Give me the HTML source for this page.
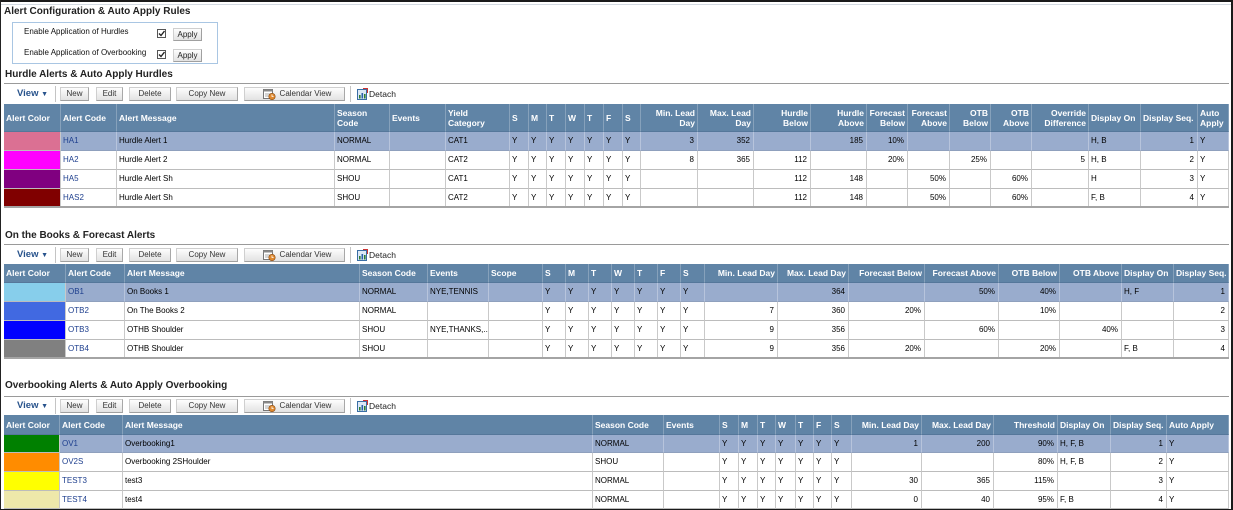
<!DOCTYPE html>
<html><head><meta charset="utf-8"><style>
*{margin:0;padding:0;box-sizing:border-box}
body{width:1233px;height:510px;position:relative;overflow:hidden;background:#fff;font-family:"Liberation Sans",Arial,sans-serif;color:#000}
.a{position:absolute}
.title{position:absolute;font-size:10px;font-weight:bold;color:#222;white-space:nowrap;line-height:12px}
.hr{position:absolute;left:4px;width:1225px;height:1px;background:#9a9a9a}
.tb{position:absolute;left:0;width:1230px;height:14px}
.btn{position:absolute;top:0;height:14px;border:1px solid #b5b5b5;border-color:#cfcfcf #a8a8a8 #a0a0a0 #cfcfcf;background:linear-gradient(#fdfdfd,#e2e2e2);font-size:8px;color:#333;text-align:center;line-height:12px;white-space:nowrap}
.view{position:absolute;left:17px;top:0;font-size:9.5px;font-weight:bold;color:#28538c;line-height:14px;white-space:nowrap}
.sep{position:absolute;top:-1px;width:1px;height:16px;background:#c4c4c4}
.det{position:absolute;left:369px;top:0;font-size:8.5px;line-height:14px;color:#222}
.g{position:absolute;left:4px;display:grid;font-size:8px}
.g>div{border-right:1px solid #c9c9c9;border-bottom:1px solid #bcbcbc;padding:0 3px 0 2px;display:flex;align-items:center;white-space:nowrap;overflow:hidden;line-height:10px}
.g>.h{background:#6084a6;color:#fff;font-weight:bold;font-size:8.5px;border-right-color:#86a1bb;border-bottom-color:#55779a;padding:0 2px}
.g>.s{background:#99accd;border-right-color:#b7c4dc;border-bottom-color:#8fa0bd}
.g>.r{justify-content:flex-end;text-align:right}
.g>.c{color:#1e3f8e}
.lbl{position:absolute;left:24px;font-size:8px;line-height:10px;white-space:nowrap;color:#111}
.cb{position:absolute;left:157px;width:9px;height:9px;border:1px solid #555;background:#fff}
.ap{position:absolute;left:173px;width:29px;height:13px;border:1px solid #b5b5b5;border-color:#cfcfcf #a0a0a0 #a0a0a0 #cfcfcf;background:linear-gradient(#fdfdfd,#e2e2e2);font-size:8px;line-height:11px;text-align:center;color:#222}
.bl{position:absolute;left:4px;width:1225px;height:2px;background:#a4a4a4}
.cal{left:244px;width:101px;padding-left:22px}
</style></head><body>

<!-- frame -->
<div class="a" style="left:0;top:0;width:1233px;height:2px;background:#1a1a1a"></div>
<div class="a" style="left:0;top:4px;width:1231px;height:1px;background:#d3dae2"></div>
<div class="a" style="left:0;top:0;width:1px;height:510px;background:#222"></div>
<div class="a" style="left:1231px;top:0;width:2px;height:510px;background:#1a1a1a"></div>
<div class="a" style="left:0;top:509px;width:1233px;height:1px;background:#1a1a1a"></div>

<!-- section: config -->
<div class="title" style="left:4px;top:6px">Alert Configuration &amp; Auto Apply Rules</div>
<div class="a" style="left:12px;top:22px;width:206px;height:42px;border:1px solid #a9c6e3"></div>
<div class="lbl" style="top:27px">Enable Application of Hurdles</div>
<div class="cb" style="top:29px"><svg width="7" height="7" style="position:absolute;left:0;top:0"><path d="M1 3.5 L3 5.5 L6.5 1" stroke="#222" stroke-width="1.4" fill="none"/></svg></div>
<div class="ap" style="top:28px">Apply</div>
<div class="lbl" style="top:48px">Enable Application of Overbooking</div>
<div class="cb" style="top:50px"><svg width="7" height="7" style="position:absolute;left:0;top:0"><path d="M1 3.5 L3 5.5 L6.5 1" stroke="#222" stroke-width="1.4" fill="none"/></svg></div>
<div class="ap" style="top:49px">Apply</div>

<!-- section 1 -->
<div class="title" style="left:5px;top:69px">Hurdle Alerts &amp; Auto Apply Hurdles</div>
<div class="hr" style="top:83px"></div>
<div class="tb" style="top:87px">
  <div class="view">View <span style="font-size:7px">&#9660;</span></div>
  <div class="sep" style="left:55px"></div>
  <div class="btn" style="left:60px;width:29px">New</div>
  <div class="btn" style="left:96px;width:27px">Edit</div>
  <div class="btn" style="left:129px;width:42px">Delete</div>
  <div class="btn" style="left:176px;width:62px">Copy New</div>
  <div class="btn cal">Calendar View</div>
  <svg class="a" style="left:263px;top:1px" width="13" height="12"><rect x="0.5" y="1.5" width="9" height="9" fill="#fff" stroke="#777"/><rect x="0.5" y="1.5" width="9" height="2" fill="#888"/><line x1="2" y1="6" x2="8" y2="6" stroke="#aaa"/><line x1="2" y1="8" x2="6" y2="8" stroke="#aaa"/><circle cx="9" cy="8.5" r="3.2" fill="#e08a30" stroke="#8a4a10" stroke-width="0.6"/><path d="M9 6.5 V8.5 H10.6" stroke="#fff" stroke-width="0.8" fill="none"/></svg>
  <div class="sep" style="left:350px"></div>
  <svg class="a" style="left:357px;top:1px" width="11" height="12"><rect x="0.5" y="1.5" width="9" height="10" fill="#dbe8f6" stroke="#3a6ea5"/><rect x="2" y="7" width="1.6" height="3.5" fill="#2f7d32"/><rect x="4.5" y="5" width="1.6" height="5.5" fill="#2a5ea8"/><rect x="7" y="6" width="1.6" height="4.5" fill="#2f7d32"/><path d="M6 0.5 H10.5 V5" stroke="#c33" stroke-width="1" fill="none"/></svg>
  <div class="det">Detach</div>
</div>

<div class="g" style="top:104px;grid-template-columns:57px 56px 218px 55px 56px 64px 19px 18px 19px 19px 19px 19px 18px 57px 56px 57px 56px 41px 42px 41px 41px 57px 52px 57px 31px;grid-template-rows:28px 19px 19px 19px 19px">
<div class="h">Alert Color</div><div class="h">Alert Code</div><div class="h">Alert Message</div><div class="h"><span>Season<br>Code</span></div><div class="h">Events</div><div class="h"><span>Yield<br>Category</span></div>
<div class="h">S</div><div class="h">M</div><div class="h">T</div><div class="h">W</div><div class="h">T</div><div class="h">F</div><div class="h">S</div>
<div class="h r"><span>Min. Lead<br>Day</span></div><div class="h r"><span>Max. Lead<br>Day</span></div><div class="h r"><span>Hurdle<br>Below</span></div><div class="h r"><span>Hurdle<br>Above</span></div><div class="h r"><span>Forecast<br>Below</span></div><div class="h r"><span>Forecast<br>Above</span></div><div class="h r"><span>OTB<br>Below</span></div><div class="h r"><span>OTB<br>Above</span></div><div class="h r"><span>Override<br>Difference</span></div><div class="h">Display On</div><div class="h">Display Seq.</div><div class="h"><span>Auto<br>Apply</span></div>

<div style="background:#db7093"></div><div class="s c">HA1</div><div class="s">Hurdle Alert 1</div><div class="s">NORMAL</div><div class="s"></div><div class="s">CAT1</div>
<div class="s">Y</div><div class="s">Y</div><div class="s">Y</div><div class="s">Y</div><div class="s">Y</div><div class="s">Y</div><div class="s">Y</div>
<div class="s r">3</div><div class="s r">352</div><div class="s r"></div><div class="s r">185</div><div class="s r">10%</div><div class="s"></div><div class="s"></div><div class="s"></div><div class="s"></div><div class="s">H, B</div><div class="s r">1</div><div class="s">Y</div>

<div style="background:#ff00ff"></div><div class="c">HA2</div><div>Hurdle Alert 2</div><div>NORMAL</div><div></div><div>CAT2</div>
<div>Y</div><div>Y</div><div>Y</div><div>Y</div><div>Y</div><div>Y</div><div>Y</div>
<div class="r">8</div><div class="r">365</div><div class="r">112</div><div class="r"></div><div class="r">20%</div><div></div><div class="r">25%</div><div></div><div class="r">5</div><div>H, B</div><div class="r">2</div><div>Y</div>

<div style="background:#800080"></div><div class="c">HA5</div><div>Hurdle Alert Sh</div><div>SHOU</div><div></div><div>CAT1</div>
<div>Y</div><div>Y</div><div>Y</div><div>Y</div><div>Y</div><div>Y</div><div>Y</div>
<div class="r"></div><div class="r"></div><div class="r">112</div><div class="r">148</div><div></div><div class="r">50%</div><div></div><div class="r">60%</div><div></div><div>H</div><div class="r">3</div><div>Y</div>

<div style="background:#800000"></div><div class="c">HAS2</div><div>Hurdle Alert Sh</div><div>SHOU</div><div></div><div>CAT2</div>
<div>Y</div><div>Y</div><div>Y</div><div>Y</div><div>Y</div><div>Y</div><div>Y</div>
<div class="r"></div><div class="r"></div><div class="r">112</div><div class="r">148</div><div></div><div class="r">50%</div><div></div><div class="r">60%</div><div></div><div>F, B</div><div class="r">4</div><div>Y</div>
</div>
<div class="bl" style="top:206px"></div>

<!-- section 2 -->
<div class="title" style="left:5px;top:230px">On the Books &amp; Forecast Alerts</div>
<div class="hr" style="top:244px"></div>
<div class="tb" style="top:248px">
  <div class="view">View <span style="font-size:7px">&#9660;</span></div>
  <div class="sep" style="left:55px"></div>
  <div class="btn" style="left:60px;width:29px">New</div>
  <div class="btn" style="left:96px;width:27px">Edit</div>
  <div class="btn" style="left:129px;width:42px">Delete</div>
  <div class="btn" style="left:176px;width:62px">Copy New</div>
  <div class="btn cal">Calendar View</div>
  <svg class="a" style="left:263px;top:1px" width="13" height="12"><rect x="0.5" y="1.5" width="9" height="9" fill="#fff" stroke="#777"/><rect x="0.5" y="1.5" width="9" height="2" fill="#888"/><line x1="2" y1="6" x2="8" y2="6" stroke="#aaa"/><line x1="2" y1="8" x2="6" y2="8" stroke="#aaa"/><circle cx="9" cy="8.5" r="3.2" fill="#e08a30" stroke="#8a4a10" stroke-width="0.6"/><path d="M9 6.5 V8.5 H10.6" stroke="#fff" stroke-width="0.8" fill="none"/></svg>
  <div class="sep" style="left:350px"></div>
  <svg class="a" style="left:357px;top:1px" width="11" height="12"><rect x="0.5" y="1.5" width="9" height="10" fill="#dbe8f6" stroke="#3a6ea5"/><rect x="2" y="7" width="1.6" height="3.5" fill="#2f7d32"/><rect x="4.5" y="5" width="1.6" height="5.5" fill="#2a5ea8"/><rect x="7" y="6" width="1.6" height="4.5" fill="#2f7d32"/><path d="M6 0.5 H10.5 V5" stroke="#c33" stroke-width="1" fill="none"/></svg>
  <div class="det">Detach</div>
</div>

<div class="g" style="top:264px;grid-template-columns:62px 59px 235px 68px 61px 54px 23px 23px 23px 23px 23px 23px 24px 73px 71px 76px 74px 61px 62px 52px 55px;grid-template-rows:19px 19px 19px 19px 19px">
<div class="h">Alert Color</div><div class="h">Alert Code</div><div class="h">Alert Message</div><div class="h">Season Code</div><div class="h">Events</div><div class="h">Scope</div>
<div class="h">S</div><div class="h">M</div><div class="h">T</div><div class="h">W</div><div class="h">T</div><div class="h">F</div><div class="h">S</div>
<div class="h r">Min. Lead Day</div><div class="h r">Max. Lead Day</div><div class="h r">Forecast Below</div><div class="h r">Forecast Above</div><div class="h r">OTB Below</div><div class="h r">OTB Above</div><div class="h">Display On</div><div class="h">Display Seq.</div>

<div style="background:#87ceeb"></div><div class="s c">OB1</div><div class="s">On Books 1</div><div class="s">NORMAL</div><div class="s">NYE,TENNIS</div><div class="s"></div>
<div class="s">Y</div><div class="s">Y</div><div class="s">Y</div><div class="s">Y</div><div class="s">Y</div><div class="s">Y</div><div class="s">Y</div>
<div class="s r"></div><div class="s r">364</div><div class="s r"></div><div class="s r">50%</div><div class="s r">40%</div><div class="s r"></div><div class="s">H, F</div><div class="s r">1</div>

<div style="background:#4169e1"></div><div class="c">OTB2</div><div>On The Books 2</div><div>NORMAL</div><div></div><div></div>
<div>Y</div><div>Y</div><div>Y</div><div>Y</div><div>Y</div><div>Y</div><div>Y</div>
<div class="r">7</div><div class="r">360</div><div class="r">20%</div><div class="r"></div><div class="r">10%</div><div class="r"></div><div></div><div class="r">2</div>

<div style="background:#0000ff"></div><div class="c">OTB3</div><div>OTHB Shoulder</div><div>SHOU</div><div>NYE,THANKS,...</div><div></div>
<div>Y</div><div>Y</div><div>Y</div><div>Y</div><div>Y</div><div>Y</div><div>Y</div>
<div class="r">9</div><div class="r">356</div><div class="r"></div><div class="r">60%</div><div class="r"></div><div class="r">40%</div><div></div><div class="r">3</div>

<div style="background:#808080"></div><div class="c">OTB4</div><div>OTHB Shoulder</div><div>SHOU</div><div></div><div></div>
<div>Y</div><div>Y</div><div>Y</div><div>Y</div><div>Y</div><div>Y</div><div>Y</div>
<div class="r">9</div><div class="r">356</div><div class="r">20%</div><div class="r"></div><div class="r">20%</div><div class="r"></div><div>F, B</div><div class="r">4</div>
</div>
<div class="bl" style="top:357px"></div>

<!-- section 3 -->
<div class="title" style="left:5px;top:380px">Overbooking Alerts &amp; Auto Apply Overbooking</div>
<div class="hr" style="top:396px"></div>
<div class="tb" style="top:399px">
  <div class="view">View <span style="font-size:7px">&#9660;</span></div>
  <div class="sep" style="left:55px"></div>
  <div class="btn" style="left:60px;width:29px">New</div>
  <div class="btn" style="left:96px;width:27px">Edit</div>
  <div class="btn" style="left:129px;width:42px">Delete</div>
  <div class="btn" style="left:176px;width:62px">Copy New</div>
  <div class="btn cal">Calendar View</div>
  <svg class="a" style="left:263px;top:1px" width="13" height="12"><rect x="0.5" y="1.5" width="9" height="9" fill="#fff" stroke="#777"/><rect x="0.5" y="1.5" width="9" height="2" fill="#888"/><line x1="2" y1="6" x2="8" y2="6" stroke="#aaa"/><line x1="2" y1="8" x2="6" y2="8" stroke="#aaa"/><circle cx="9" cy="8.5" r="3.2" fill="#e08a30" stroke="#8a4a10" stroke-width="0.6"/><path d="M9 6.5 V8.5 H10.6" stroke="#fff" stroke-width="0.8" fill="none"/></svg>
  <div class="sep" style="left:350px"></div>
  <svg class="a" style="left:357px;top:1px" width="11" height="12"><rect x="0.5" y="1.5" width="9" height="10" fill="#dbe8f6" stroke="#3a6ea5"/><rect x="2" y="7" width="1.6" height="3.5" fill="#2f7d32"/><rect x="4.5" y="5" width="1.6" height="5.5" fill="#2a5ea8"/><rect x="7" y="6" width="1.6" height="4.5" fill="#2f7d32"/><path d="M6 0.5 H10.5 V5" stroke="#c33" stroke-width="1" fill="none"/></svg>
  <div class="det">Detach</div>
</div>

<div class="g" style="top:415px;grid-template-columns:56px 63px 470px 71px 56px 19px 19px 18px 20px 18px 18px 20px 70px 72px 64px 53px 56px 62px;grid-template-rows:20px 18px 19px 19px 18px">
<div class="h">Alert Color</div><div class="h">Alert Code</div><div class="h">Alert Message</div><div class="h">Season Code</div><div class="h">Events</div>
<div class="h">S</div><div class="h">M</div><div class="h">T</div><div class="h">W</div><div class="h">T</div><div class="h">F</div><div class="h">S</div>
<div class="h r">Min. Lead Day</div><div class="h r">Max. Lead Day</div><div class="h r">Threshold</div><div class="h">Display On</div><div class="h">Display Seq.</div><div class="h">Auto Apply</div>

<div style="background:#008000"></div><div class="s c">OV1</div><div class="s">Overbooking1</div><div class="s">NORMAL</div><div class="s"></div>
<div class="s">Y</div><div class="s">Y</div><div class="s">Y</div><div class="s">Y</div><div class="s">Y</div><div class="s">Y</div><div class="s">Y</div>
<div class="s r">1</div><div class="s r">200</div><div class="s r">90%</div><div class="s">H, F, B</div><div class="s r">1</div><div class="s">Y</div>

<div style="background:#ff8c00"></div><div class="c">OV2S</div><div>Overbooking 2SHoulder</div><div>SHOU</div><div></div>
<div>Y</div><div>Y</div><div>Y</div><div>Y</div><div>Y</div><div>Y</div><div>Y</div>
<div class="r"></div><div class="r"></div><div class="r">80%</div><div>H, F, B</div><div class="r">2</div><div>Y</div>

<div style="background:#ffff00"></div><div class="c">TEST3</div><div>test3</div><div>NORMAL</div><div></div>
<div>Y</div><div>Y</div><div>Y</div><div>Y</div><div>Y</div><div>Y</div><div>Y</div>
<div class="r">30</div><div class="r">365</div><div class="r">115%</div><div></div><div class="r">3</div><div>Y</div>

<div style="background:#eee8aa"></div><div class="c">TEST4</div><div>test4</div><div>NORMAL</div><div></div>
<div>Y</div><div>Y</div><div>Y</div><div>Y</div><div>Y</div><div>Y</div><div>Y</div>
<div class="r">0</div><div class="r">40</div><div class="r">95%</div><div>F, B</div><div class="r">4</div><div>Y</div>
</div>

</body></html>
